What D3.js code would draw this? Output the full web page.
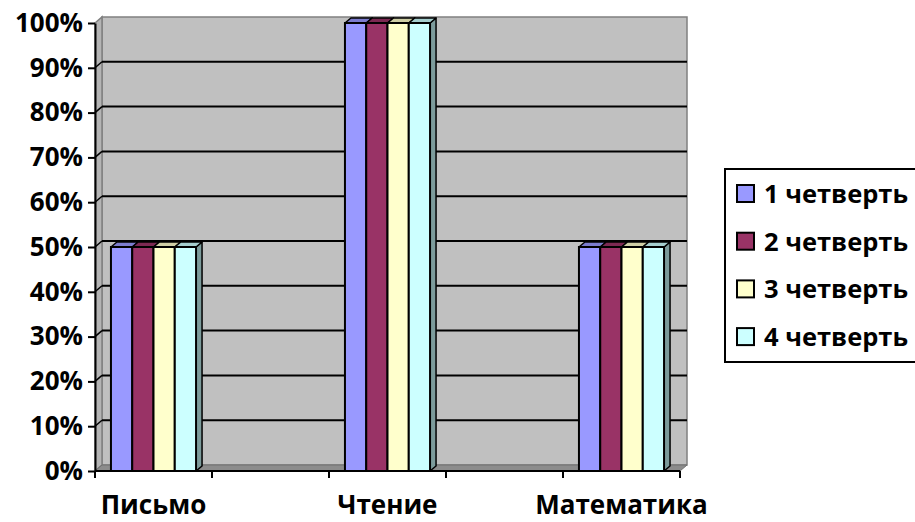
<!DOCTYPE html>
<html>
<head>
<meta charset="utf-8">
<script src="https://cdn.jsdelivr.net/npm/d3@7"></script>
<style>
  body { margin: 0; background: #fff; }
  text { font-family: "Open Sans", sans-serif; font-weight: bold; }
</style>
</head>
<body>
<script>
// data (blank columns between subjects)
const categories = ['Письмо', '', 'Чтение', '', 'Математика'];
const series = ['1 четверть', '2 четверть', '3 четверть', '4 четверть'];
const q1 = [0.5, null, 1.0, null, 0.5];
const q2 = [0.5, null, 1.0, null, 0.5];
const q3 = [0.5, null, 1.0, null, 0.5];
const q4 = [0.5, null, 1.0, null, 0.5];
const yTicks = [0, 0.1, 0.2, 0.3, 0.4, 0.5, 0.6, 0.7, 0.8, 0.9, 1];

const values = [q1, q2, q3, q4];
const colors = ['#9999ff', '#993366', '#ffffcc', '#ccffff'];

const W = 915, H = 522;
const dx = 7, dy = -6;      // depth of the walls
const bdx = 6, bdy = -5;    // depth of the bars

const svg = d3.select('body').append('svg')
    .attr('width', W)
    .attr('height', H);

const x = d3.scaleBand()
    .domain(d3.range(categories.length))
    .range([95, 680]);

const y = d3.scaleLinear()
    .domain([0, 1])
    .range([471, 23]);

// gap width 150%
const groupW = x.bandwidth() * 4 / 5.5;
const xs = d3.scaleBand()
    .domain(series)
    .range([(x.bandwidth() - groupW) / 2, (x.bandwidth() + groupW) / 2]);

const x0 = x.range()[0], x1 = x.range()[1];

// back wall
svg.append('rect')
    .attr('x', x0 + dx)
    .attr('y', y(1) + dy)
    .attr('width', x1 - x0)
    .attr('height', y(0) - y(1))
    .attr('fill', '#c0c0c0')
    .attr('stroke', '#808080')
    .attr('stroke-width', 1.5);

// side wall
svg.append('polygon')
    .attr('points', [[x0, y(1)], [x0 + dx, y(1) + dy], [x0 + dx, y(0) + dy], [x0, y(0)]].join(' '))
    .attr('fill', '#b4b4b4')
    .attr('stroke', '#808080')
    .attr('stroke-width', 1.5);

// gridlines on back wall + stubs on side wall
const grid = yTicks.filter(v => v > 0 && v < 1);
svg.selectAll('.grid')
    .data(grid)
    .enter()
    .append('line')
    .attr('class', 'grid')
    .attr('x1', x0 + dx)
    .attr('x2', x1 + dx)
    .attr('y1', d => y(d) + dy)
    .attr('y2', d => y(d) + dy)
    .attr('stroke', '#000')
    .attr('stroke-width', 2);

svg.selectAll('.stub')
    .data(grid)
    .enter()
    .append('line')
    .attr('class', 'stub')
    .attr('x1', x0)
    .attr('x2', x0 + dx)
    .attr('y1', d => y(d))
    .attr('y2', d => y(d) + dy)
    .attr('stroke', '#000')
    .attr('stroke-width', 1.5);

// floor
svg.append('polygon')
    .attr('points', [[x0, y(0)], [x1, y(0)], [x1 + dx, y(0) + dy], [x0 + dx, y(0) + dy]].join(' '))
    .attr('fill', '#8c8c8c')
    .attr('stroke', '#707070')
    .attr('stroke-width', 1);

// bars
const shade = (c, k) => d3.rgb(c).darker(k).formatHex();
categories.forEach((cat, i) => {
    series.forEach((s, j) => {
        const v = values[j][i];
        if (v == null) return;
        const bx = x(i) + xs(s);
        const bw = xs.bandwidth();
        const top = y(v), bot = y(0);
        const g = svg.append('g');
        g.append('polygon')
            .attr('points', [[bx + bw, top], [bx + bw + bdx, top + bdy], [bx + bw + bdx, bot + bdy], [bx + bw, bot]].join(' '))
            .attr('fill', shade(colors[j], 1.4))
            .attr('stroke', '#000')
            .attr('stroke-width', 1.5)
            .attr('stroke-linejoin', 'round');
        g.append('polygon')
            .attr('points', [[bx, top], [bx + bdx, top + bdy], [bx + bw + bdx, top + bdy], [bx + bw, top]].join(' '))
            .attr('fill', shade(colors[j], 0.6))
            .attr('stroke', '#000')
            .attr('stroke-width', 1.5)
            .attr('stroke-linejoin', 'round');
        g.append('rect')
            .attr('x', bx)
            .attr('y', top)
            .attr('width', bw)
            .attr('height', bot - top)
            .attr('fill', colors[j])
            .attr('stroke', '#000')
            .attr('stroke-width', 2);
    });
});

// y axis
const yAxis = svg.append('g')
    .attr('transform', `translate(${x0},0)`)
    .call(d3.axisLeft(y).tickValues(yTicks).tickFormat(d3.format('.0%')).tickSize(7).tickSizeOuter(0).tickPadding(5));
yAxis.select('.domain').attr('stroke', '#000').attr('stroke-width', 2);
yAxis.selectAll('.tick line').attr('stroke', '#000').attr('stroke-width', 2);
yAxis.selectAll('.tick text')
    .attr('font-family', '"Open Sans", sans-serif')
    .attr('font-weight', 'bold')
    .attr('font-size', 26)
    .attr('fill', '#000');

// x axis line, ticks at band edges, labels at band centres
svg.append('line')
    .attr('x1', x0).attr('x2', x1)
    .attr('y1', y(0)).attr('y2', y(0))
    .attr('stroke', '#000')
    .attr('stroke-width', 2);

const edges = d3.range(categories.length + 1).map(i => i < categories.length ? x(i) : x1);
svg.selectAll('.xtick')
    .data(edges)
    .enter()
    .append('line')
    .attr('class', 'xtick')
    .attr('x1', d => d).attr('x2', d => d)
    .attr('y1', y(0)).attr('y2', y(0) + 7)
    .attr('stroke', '#000')
    .attr('stroke-width', 2);

svg.selectAll('.xlabel')
    .data(categories)
    .enter()
    .append('text')
    .attr('class', 'xlabel')
    .attr('x', (d, i) => x(i) + x.bandwidth() / 2)
    .attr('y', 514)
    .attr('text-anchor', 'middle')
    .attr('font-size', 26)
    .text(d => d);

// legend
const legend = svg.append('g').attr('transform', 'translate(725, 169)');
legend.append('rect')
    .attr('width', 220)
    .attr('height', 193)
    .attr('fill', '#fff')
    .attr('stroke', '#000')
    .attr('stroke-width', 2);

const item = legend.selectAll('.item')
    .data(series)
    .enter()
    .append('g')
    .attr('class', 'item')
    .attr('transform', (d, i) => `translate(0, ${34 + i * 47.7})`);

item.append('rect')
    .attr('x', 12)
    .attr('y', -18)
    .attr('width', 17)
    .attr('height', 17)
    .attr('fill', (d, i) => colors[i])
    .attr('stroke', '#000')
    .attr('stroke-width', 2);

item.append('text')
    .attr('x', 39)
    .attr('y', 0)
    .attr('font-size', 25.5)
    .text(d => d);
</script>
</body>
</html>
